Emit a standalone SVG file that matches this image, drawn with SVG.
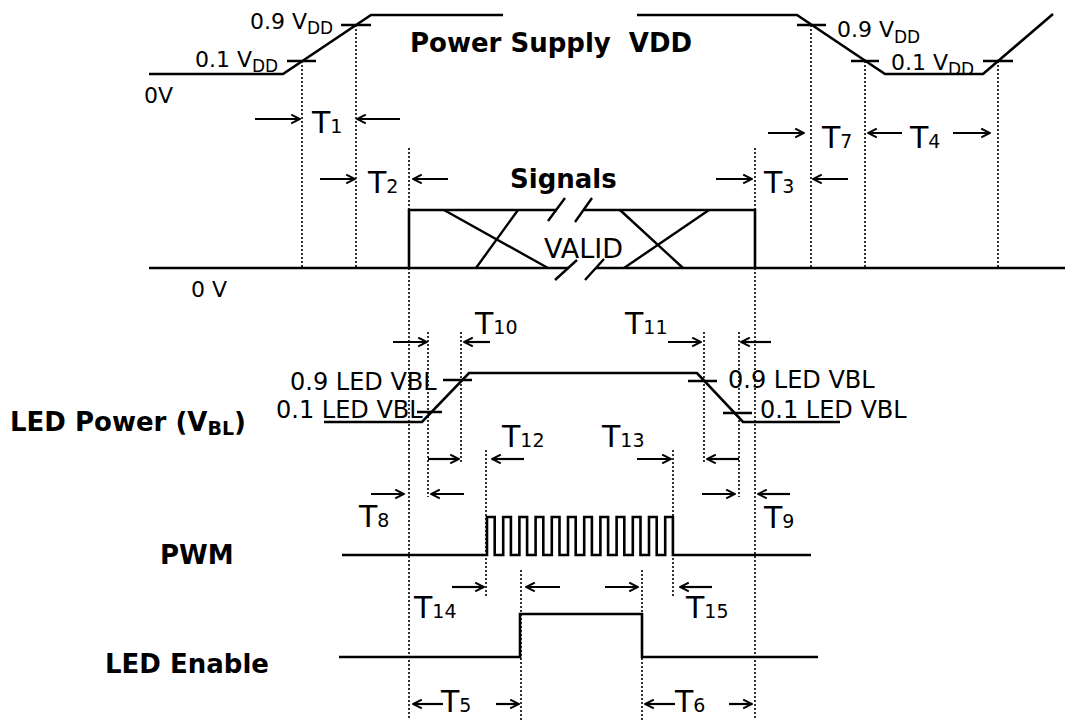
<svg xmlns="http://www.w3.org/2000/svg" width="1065" height="720" viewBox="0 0 1065 720">
<style>
text{font-family:"DejaVu Sans",Verdana,sans-serif;fill:#000}
.b{font-weight:bold;font-size:26px}
.r{font-size:22px}
.l{font-size:24px}
.t{font-size:30px}
.s{font-size:19px}
.w{fill:none;stroke:#000;stroke-width:2.6;stroke-linejoin:miter}
.k{fill:none;stroke:#000;stroke-width:2.4}
.d{fill:none;stroke:#000;stroke-width:1.6;stroke-dasharray:2 2}
.a{fill:none;stroke:#000;stroke-width:2.2;marker-end:url(#ah)}
</style>
<defs>
<marker id="ah" viewBox="0 0 10 10" refX="9" refY="5" markerWidth="11" markerHeight="11" markerUnits="userSpaceOnUse" orient="auto">
<path d="M1,1 L9,5 L1,9" fill="none" stroke="#000" stroke-width="1.8"/>
</marker>
</defs>
<rect width="1065" height="720" fill="#fff"/>

<g id="guides">
<path class="d" d="M302,61V268M356,25V268M409,148V720M755,148V720M811,25V268M865,61V268M998,61V268M428,332V497M461,332V463M704,332V463M739,332V497M486,450V598M673,450V598M521,570V720M642,570V720"/>
</g>

<g id="vdd">
<path class="w" d="M149,74H283L371,15H503"/>
<path class="w" d="M637,15H797L885,74H983L1053,14"/>
<path class="k" d="M287,61H316M341,25H371M797,25H826M851,61H879M983,61H1013"/>
<text class="r" x="250" y="29">0.9 V<tspan font-size="17" dy="5">DD</tspan></text>
<text class="r" x="195" y="67">0.1 V<tspan font-size="17" dy="5">DD</tspan></text>
<text class="r" x="837" y="37">0.9 V<tspan font-size="17" dy="6">DD</tspan></text>
<text class="r" x="891" y="70">0.1 V<tspan font-size="17" dy="5">DD</tspan></text>
<text class="r" x="144" y="103">0V</text>
<text class="b" x="410" y="52">Power Supply&#160; VDD</text>
</g>

<g id="signals">
<path class="w" d="M149,268H568M596,268H1065"/>
<path class="w" d="M409,268V210H557M584,210H755V268"/>
<path class="k" d="M548,221L565,198M575,222L592,198M555,280L577,260M585,280L604,259"/>
<path class="k" d="M444,210L548,268M476,268L518,210M620,210L683,268M624,268L709,210"/>
<text class="b" x="510" y="188">Signals</text>
<text x="544" y="258" font-size="27">VALID</text>
<text class="r" x="191" y="297">0 V</text>
</g>

<g id="led-power">
<path class="w" d="M324,422H422L469,373H697L743,422H840"/>
<path class="k" d="M417,412H442M443,380H472M688,381H717M723,413H752"/>
<text class="l" x="290" y="390">0.9 LED VBL</text>
<text class="l" x="276" y="418">0.1 LED VBL</text>
<text class="l" x="728" y="388">0.9 LED VBL</text>
<text class="l" x="760" y="418">0.1 LED VBL</text>
<text class="b" x="10" y="431">LED Power (V<tspan font-size="19" dy="4">BL</tspan><tspan dy="-4">)</tspan></text>
</g>

<g id="pwm">
<path class="w" d="M342,555H487V517H494.7V555H503.2V517H510.9V555H519.4V517H527.1V555H535.6V517H543.3V555H551.8V517H559.5V555H568V517H575.7V555H584.2V517H591.9V555H600.4V517H608.1V555H616.6V517H624.3V555H632.8V517H640.5V555H649V517H656.7V555H665.2V517H672.9V555H811"/>
<text class="b" x="160" y="564">PWM</text>
</g>

<g id="led-enable">
<path class="w" d="M339,657H520V614H642V657H818"/>
<text class="b" x="105" y="673">LED Enable</text>
</g>

<g id="connectors">
<path class="a" d="M255,119H300"/><path class="a" d="M400,119H357"/>
<path class="a" d="M320,179H355"/><path class="a" d="M448,179H413"/>
<path class="a" d="M716,179H752"/><path class="a" d="M848,179H813"/>
<path class="a" d="M768,133H804"/><path class="a" d="M902,133H868"/><path class="a" d="M953,133H990"/>
<path class="a" d="M393,342H427"/><path class="a" d="M490,342H464"/>
<path class="a" d="M668,342H701"/><path class="a" d="M771,342H741"/>
<path class="a" d="M428,459H459"/><path class="a" d="M524,459H492"/>
<path class="a" d="M637,459H671"/><path class="a" d="M739,459H707"/>
<path class="a" d="M371,494H404"/><path class="a" d="M464,494H431"/>
<path class="a" d="M702,494H735"/><path class="a" d="M790,494H758"/>
<path class="a" d="M452,587H484"/><path class="a" d="M560,587H526"/><path class="a" d="M605,587H638"/><path class="a" d="M712,587H680"/>
<path class="a" d="M443,704H413"/><path class="a" d="M496,704H519"/>
<path class="a" d="M675,704H645"/><path class="a" d="M729,704H752"/>
</g>

<g id="labels">
<text class="t" x="312" y="133">T<tspan class="s">1</tspan></text>
<text class="t" x="368" y="193">T<tspan class="s">2</tspan></text>
<text class="t" x="764" y="193">T<tspan class="s">3</tspan></text>
<text class="t" x="822" y="148">T<tspan class="s">7</tspan></text>
<text class="t" x="910" y="148">T<tspan class="s">4</tspan></text>
<text class="t" x="475" y="334">T<tspan class="s">10</tspan></text>
<text class="t" x="625" y="334">T<tspan class="s">11</tspan></text>
<text class="t" x="502" y="447">T<tspan class="s">12</tspan></text>
<text class="t" x="602" y="447">T<tspan class="s">13</tspan></text>
<text class="t" x="359" y="527">T<tspan class="s">8</tspan></text>
<text class="t" x="764" y="528">T<tspan class="s">9</tspan></text>
<text class="t" x="414" y="618">T<tspan class="s">14</tspan></text>
<text class="t" x="686" y="618">T<tspan class="s">15</tspan></text>
<text class="t" x="441" y="712">T<tspan class="s">5</tspan></text>
<text class="t" x="675" y="712">T<tspan class="s">6</tspan></text>
</g>
</svg>
